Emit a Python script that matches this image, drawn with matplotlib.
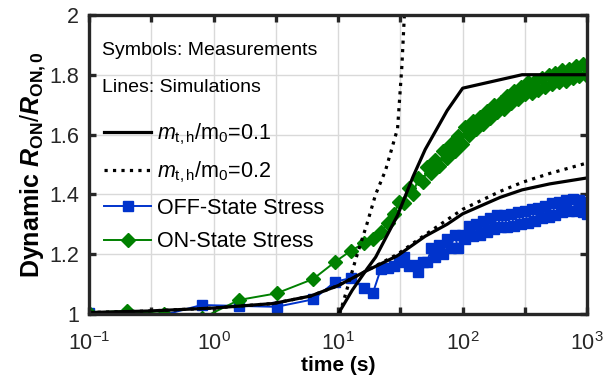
import matplotlib
matplotlib.use("Agg")
import matplotlib.pyplot as plt

plt.rcParams['font.family'] = ['Liberation Sans', 'DejaVu Sans']
plt.rcParams['mathtext.fontset'] = 'custom'
plt.rcParams['mathtext.rm'] = 'Liberation Sans'
plt.rcParams['mathtext.it'] = 'Liberation Sans:italic'
plt.rcParams['mathtext.bf'] = 'Liberation Sans:bold'
plt.rcParams['mathtext.bfit'] = 'Liberation Sans:bold:italic'

# measured data, OFF-state stress (blue squares)
t_off = [0.1, 0.2, 0.4, 0.8, 1.6, 3.2, 6.3, 9.5, 12.6, 16, 19,
         22, 25, 28, 31, 34, 37, 40, 44, 48, 52, 56, 60, 65, 70, 75, 80, 86, 92, 98,
         105, 112, 120, 128, 137, 146, 156, 166, 177, 189, 202, 215, 229, 244, 260,
         277, 295, 314, 335, 357, 380, 405, 431, 459, 489, 521, 555, 591, 630, 671,
         715, 762, 812, 865, 921, 981, 1000]
r_off = [1.005, 1.0, 0.997, 1.03, 1.027, 1.024, 1.049, 1.108, 1.12, 1.088, 1.07,
         1.15, 1.155, 1.16, 1.175, 1.19, 1.16, 1.165, 1.14, 1.175, 1.175, 1.22, 1.19,
         1.23, 1.20, 1.25, 1.22, 1.265, 1.22, 1.265,
         1.25, 1.295, 1.26, 1.30, 1.265, 1.31, 1.275, 1.32, 1.285, 1.33, 1.29, 1.33,
         1.29, 1.335, 1.295, 1.34, 1.30, 1.345, 1.305, 1.35, 1.31, 1.355, 1.32, 1.36,
         1.325, 1.37, 1.33, 1.375, 1.34, 1.38, 1.345, 1.385, 1.345, 1.38, 1.34, 1.375, 1.335]

# measured data, ON-state stress (green diamonds)
t_on = [0.1, 0.2, 0.4, 0.8, 1.6, 3.2, 6.3, 9.5, 12.6, 16, 19,
        22, 25, 28, 31, 34, 37, 40, 44, 48, 52, 56, 60, 65, 70, 75, 80, 86, 92, 98,
        105, 112, 120, 128, 137, 146, 156, 166, 177, 189, 202, 215, 229, 244, 260,
        277, 295, 314, 335, 357, 380, 405, 431, 459, 489, 521, 555, 591, 630, 671,
        715, 762, 812, 865, 921, 981, 1000]
r_on = [1.005, 1.01, 1.0, 0.985, 1.047, 1.069, 1.117, 1.175, 1.211, 1.236, 1.25,
        1.275, 1.305, 1.335, 1.375, 1.37, 1.42, 1.40, 1.455, 1.44, 1.49, 1.47, 1.515,
        1.495, 1.545, 1.52, 1.57, 1.545, 1.595, 1.57,
        1.625, 1.60, 1.645, 1.62, 1.66, 1.635, 1.68, 1.655, 1.70, 1.675, 1.71, 1.685,
        1.73, 1.705, 1.745, 1.72, 1.76, 1.735, 1.775, 1.74, 1.78, 1.75, 1.79, 1.76,
        1.80, 1.77, 1.805, 1.775, 1.815, 1.78, 1.82, 1.79, 1.83, 1.795, 1.835, 1.80, 1.83]

# simulations, OFF-state (slow curves)
t_sim_off = [0.1, 0.3, 1, 3, 6, 10, 17, 30, 50, 75, 100, 200, 300, 500, 1000]
r_sim_off_01 = [1.005, 1.01, 1.02, 1.035, 1.06, 1.095, 1.145, 1.195, 1.26, 1.30,
                1.335, 1.39, 1.415, 1.435, 1.455]
r_sim_off_02 = [1.005, 1.01, 1.02, 1.035, 1.06, 1.095, 1.145, 1.20, 1.265, 1.315,
                1.35, 1.41, 1.44, 1.47, 1.505]

# simulations, ON-state (fast curves)
t_sim_on_01 = [10, 13, 17, 20, 30, 40, 50, 75, 100, 300, 1000]
r_sim_on_01 = [1.0, 1.08, 1.15, 1.19, 1.33, 1.46, 1.55, 1.68, 1.755, 1.8, 1.8]
t_sim_on_02 = [10.3, 14, 17, 20, 24, 30, 32.5, 34.5]
r_sim_on_02 = [1.0, 1.19, 1.30, 1.40, 1.48, 1.62, 1.83, 2.05]

xticks = [1e-1, 10**-0.5, 1e0, 10**0.5, 1e1, 10**1.5, 1e2, 10**2.5, 1e3]
xticklabels = ['$10^{-1}$', '', '$10^{0}$', '', '$10^{1}$', '', '$10^{2}$', '', '$10^{3}$']
yticks = [1, 1.2, 1.4, 1.6, 1.8, 2]
yticklabels = ['1', '1.2', '1.4', '1.6', '1.8', '2']

blue = '#0033cc'
green = '#008000'
dark = '#262626'

fig = plt.figure(figsize=(6.06, 3.82), dpi=100)
ax = fig.add_axes([0.147, 0.178, 0.822, 0.783])

off_line, = ax.plot(t_off, r_off, '-s', color=blue, mfc=blue, mec=blue, ms=7.8, lw=1.4,
                    label='OFF-State Stress', zorder=3)
on_line, = ax.plot(t_on, r_on, '-D', color=green, mfc=green, mec=green, ms=7.2, lw=1.4,
                   label='ON-State Stress', zorder=3)

s1, = ax.plot(t_sim_off, r_sim_off_01, '-', color='k', lw=2.3, zorder=4,
              label=r'$m_{\mathrm{t,h}}$/m$_{\mathrm{0}}$=0.1')
s2, = ax.plot(t_sim_off, r_sim_off_02, ':', color='k', lw=2.3, zorder=4,
              label=r'$m_{\mathrm{t,h}}$/m$_{\mathrm{0}}$=0.2')
ax.plot(t_sim_on_01, r_sim_on_01, '-', color='k', lw=2.3, zorder=4)
ax.plot(t_sim_on_02, r_sim_on_02, ':', color='k', lw=2.3, zorder=4)

ax.set_xscale('log')
ax.set_xlim(0.1, 1000)
ax.set_ylim(1, 2)
ax.set_xticks(xticks)
ax.set_xticklabels(xticklabels)
ax.minorticks_off()
ax.set_yticks(yticks)
ax.set_yticklabels(yticklabels)

ax.grid(True, color='#d9d9d9', lw=1.0)
ax.set_axisbelow(True)
for sp in ax.spines.values():
    sp.set_linewidth(2.4)
    sp.set_color(dark)
    sp.set_zorder(5)
ax.tick_params(direction='in', length=5, width=2.4, color=dark, labelcolor=dark,
               labelsize=15.5, top=True, right=True)
ax.tick_params(axis='x', pad=13)
ax.tick_params(axis='y', pad=7)

ax.set_xlabel('time (s)', fontsize=15, fontweight='bold', labelpad=1)
ax.set_ylabel(r'Dynamic $\mathbfit{R}_{\mathbf{ON}}/\mathbfit{R}_{\mathbf{ON,0}}$',
              fontsize=18, fontweight='bold', labelpad=1)

ax.text(0.026, 0.882, 'Symbols: Measurements', transform=ax.transAxes,
        fontsize=14, va='center', ha='left')
ax.text(0.026, 0.757, 'Lines: Simulations', transform=ax.transAxes,
        fontsize=14, va='center', ha='left')
ax.legend(handles=[s1, s2, off_line, on_line], loc='upper left',
          bbox_to_anchor=(0.03, 0.642), frameon=False, fontsize=15.5,
          handlelength=2.2, handletextpad=0.25, labelspacing=0.58,
          borderpad=0, borderaxespad=0, numpoints=1)

fig.savefig('out.png', dpi=100)
